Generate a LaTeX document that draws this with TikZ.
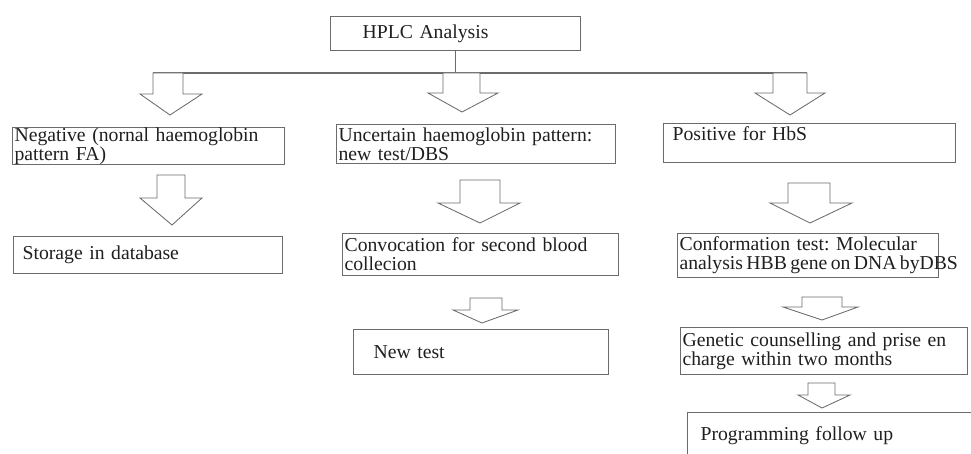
\documentclass[tikz,border=0pt]{standalone}
\usepackage{fontspec}
\setmainfont{Liberation Serif}
\usepackage{tikz}
\usetikzlibrary{calc}
\usepackage{xcolor}
\definecolor{boxgray}{gray}{0.42}
\definecolor{inkgray}{gray}{0.12}
\frenchspacing
% hollow block arrow: shaft left, shaft right, shaft top, head base, head left, head right, tip x, tip y
\newcommand{\hollowarrow}[8]{\draw[blockarrow] (#1,#3) -- (#1,#4) -- (#5,#4) -- (#7,#8) -- (#6,#4) -- (#2,#4) -- (#2,#3) -- cycle;}

\begin{document}
\begin{tikzpicture}[x=0.025cm,y=-0.025cm,
        stepbox/.style={draw=boxgray,line width=0.9pt,anchor=north west,align=left,inner xsep=0.05cm,inner ysep=0pt,text=inkgray,font=\fontsize{14}{13.5}\selectfont},
        blockarrow/.style={draw=boxgray,line width=0.6pt,fill=white,line join=miter}]
            % Fix the page to the size of the reference
            \useasboundingbox (0,0) rectangle (971,453);
            \clip (0,0) rectangle (971,453);

            % Top of the chart
            \node[stepbox,minimum height=0.85cm,text width=6.15cm] (hplc) at (330,16) {\hspace*{0.75cm}HPLC Analysis};

            \coordinate (busL) at (153,73);
            \coordinate (busR) at (807,73);
            \draw[boxgray,line width=0.8pt] (hplc.south) -- (hplc.south |- busL);
            \draw[boxgray,line width=0.8pt] (busL) -- (busR);

            \hollowarrow{153}{183}{73}{94}{140}{202}{170}{115}
            \hollowarrow{443}{480}{73}{93}{428}{498}{462}{112}
            \hollowarrow{773}{807}{73}{93}{755}{825}{790}{115}

            % First row of results
            \node[stepbox,minimum height=0.9cm,text width=6.7cm] (neg) at (12,127)
                {Negative (nornal haemoglobin\\pattern FA)};
            \node[stepbox,minimum height=0.975cm,text width=6.875cm] (unc) at (336,124)
                {Uncertain haemoglobin pattern:\\new test/DBS};
            \node[stepbox,minimum height=0.975cm,text width=7.2cm] (pos) at (663,123)
                {\hspace*{0.175cm}Positive for HbS\\ \mbox{}};

            \hollowarrow{157}{185}{175}{198}{140}{202}{172}{225}
            \hollowarrow{460}{500}{180}{203}{438}{520}{480}{223}
            \hollowarrow{788}{830}{183}{203}{770}{852}{810}{223}

            % Second row
            \node[stepbox,minimum height=0.925cm,text width=6.625cm] (store) at (13,236)
                {\hspace*{0.175cm}Storage in database};
            \node[stepbox,minimum height=1.05cm,text width=6.8cm] (convoc) at (342,233)
                {Convocation for second blood\\collecion};
            \node[stepbox,minimum height=1.1cm,text width=6.425cm] (confirm) at (677,233)
                {Conformation test: Molecular\\\mbox{\spaceskip=2.4pt analysis HBB gene on DNA byDBS}};

            \hollowarrow{470}{502}{298}{310}{453}{518}{482}{323}
            \hollowarrow{802}{842}{297}{307}{783}{858}{822}{320}

            % Third row
            \node[stepbox,minimum height=1.125cm,text width=6.275cm] (newtest) at (353,329)
                {\hspace*{0.45cm}New test};
            \node[stepbox,minimum height=1.175cm,text width=7.075cm] (counsel) at (680,327)
                {Genetic counselling and prise en\\charge within two months};

            \hollowarrow{808}{835}{383}{395}{798}{850}{822}{408}

            % Last step, cut by the page edge
            \node[stepbox,minimum height=1.15cm,text width=7.475cm] (followup) at (687,412)
                {\hspace*{0.275cm}Programming follow up};

        \end{tikzpicture}
\end{document}
